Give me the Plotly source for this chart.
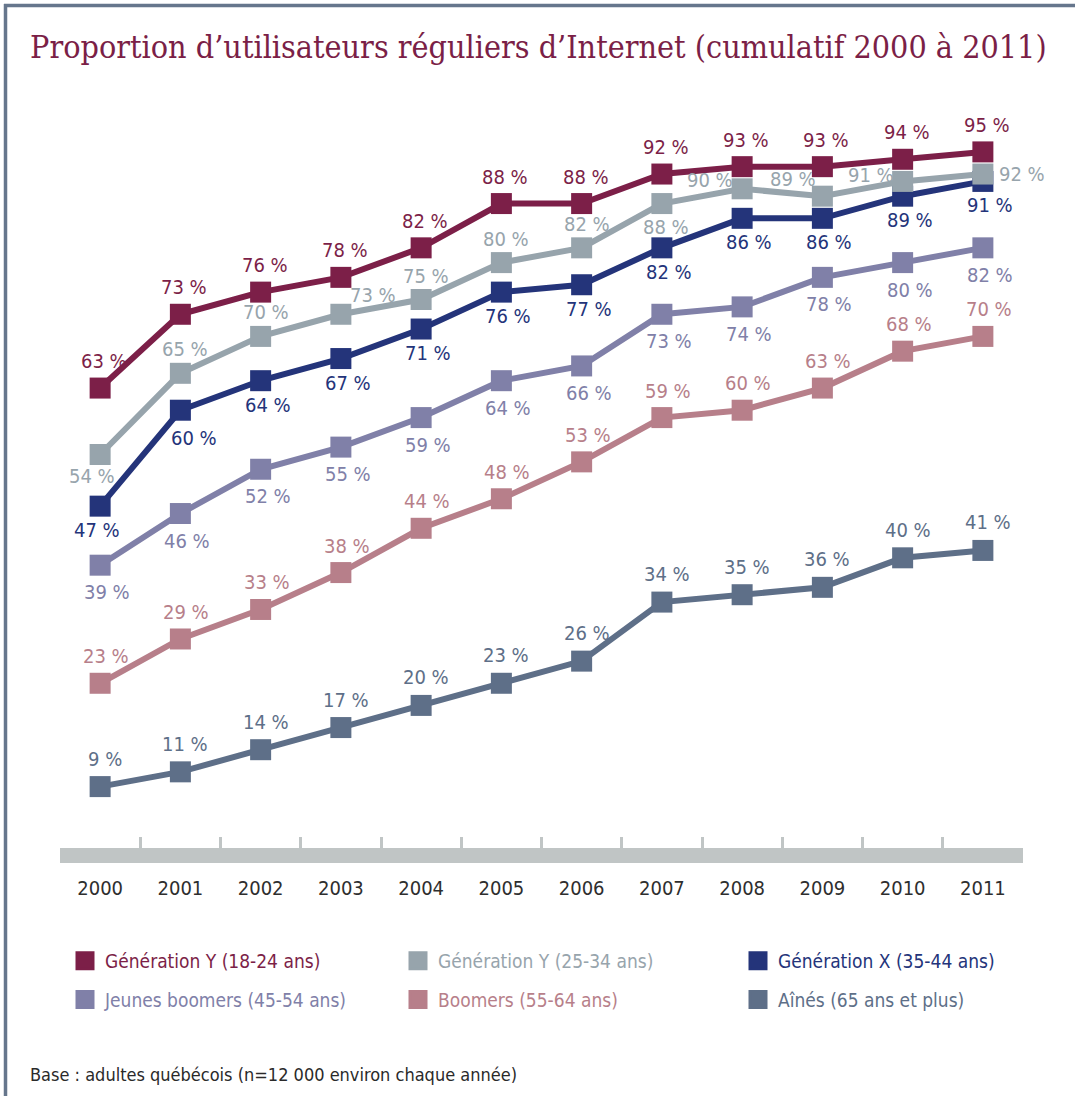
import plotly.graph_objects as go

# ---------------- data ----------------
years = [2000, 2001, 2002, 2003, 2004, 2005, 2006, 2007, 2008, 2009, 2010, 2011]

gen_y_18_24 = [63, 73, 76, 78, 82, 88, 88, 92, 93, 93, 94, 95]
gen_y_25_34 = [54, 65, 70, 73, 75, 80, 82, 88, 90, 89, 91, 92]
gen_x_35_44 = [47, 60, 64, 67, 71, 76, 77, 82, 86, 86, 89, 91]
jeunes_boomers = [39, 46, 52, 55, 59, 64, 66, 73, 74, 78, 80, 82]
boomers = [23, 29, 33, 38, 44, 48, 53, 59, 60, 63, 68, 70]
aines = [9, 11, 14, 17, 20, 23, 26, 34, 35, 36, 40, 41]

names = [
    "Génération Y (18-24 ans)",
    "Génération Y (25-34 ans)",
    "Génération X (35-44 ans)",
    "Jeunes boomers (45-54 ans)",
    "Boomers (55-64 ans)",
    "Aînés (65 ans et plus)",
]
values = [gen_y_18_24, gen_y_25_34, gen_x_35_44, jeunes_boomers, boomers, aines]

title_text = "Proportion d’utilisateurs réguliers d’Internet (cumulatif 2000 à 2011)"
footer_text = "Base : adultes québécois (n=12 000 environ chaque année)"

# ---------------- style ----------------
colors = ["#7c1f48", "#97a4ac", "#24347a", "#8080a8", "#b77f8a", "#5e6f88"]
COND = "Liberation Sans Narrow, DejaVu Sans Condensed, Arial Narrow, sans-serif"
AXIS_GREY = "#c0c5c5"
BORDER = "#66768c"

# label offsets (px): default per series, plus per-point exceptions
label_default = [(4, 27), (5, 24), (7, -24), (7, -27), (6, 27), (5, 28)]
label_except = {
    (1, 0): (-8, -22),
    (1, 3): (32, 19),
    (1, 7): (4, -23),
    (1, 8): (-32, 9),
    (1, 9): (-29, 17),
    (1, 10): (-32, 6),
    (1, 11): (39, 0),
    (2, 0): (-3, -24),
    (2, 1): (14, -28),
}

W, H = 1075, 1096
ML, MR, MT, MB = 60, 52, 115, 248
PW = W - ML - MR
PH = H - MT - MB


def px(xp):
    return (xp - ML) / PW


def py(yp):
    return (H - MB - yp) / PH


fig = go.Figure()

# lines, drawn bottom series first so upper ones overlap
for i in reversed(range(len(names))):
    fig.add_trace(go.Scatter(
        x=years, y=values[i], mode="lines+markers",
        line=dict(color=colors[i], width=6),
        marker=dict(symbol="square", size=21, color=colors[i]),
        showlegend=False, hoverinfo="skip",
    ))

# data labels
annotations = []
for i, vals in enumerate(values):
    for j, v in enumerate(vals):
        dx, dy = label_except.get((i, j), label_default[i])
        annotations.append(dict(
            x=years[j], y=v, xref="x", yref="y", text=f"{v} %",
            showarrow=False, xshift=dx, yshift=dy,
            font=dict(family=COND, size=20, color=colors[i]),
        ))

# legend-only entries (three columns)
legend_ids = ["legend", "legend2", "legend3", "legend", "legend2", "legend3"]
for i, nm in enumerate(names):
    fig.add_trace(go.Scatter(
        x=[None], y=[None], mode="markers",
        marker=dict(symbol="square", size=16, color=colors[i],
                    line=dict(color=colors[i], width=3)),
        name=f'<span style="color:{colors[i]}">{nm}</span>',
        legend=legend_ids[i], legendgroup=nm, showlegend=True,
    ))

leg_common = dict(
    yanchor="top", xanchor="left", y=py(942),
    font=dict(family=COND, size=19), tracegroupgap=11,
    bgcolor="rgba(0,0,0,0)", itemclick=False, itemdoubleclick=False,
)

annotations.append(dict(
    x=px(28), y=py(1074), xref="paper", yref="paper", xanchor="left",
    yanchor="middle", text=footer_text, showarrow=False,
    font=dict(family=COND, size=18, color="#2a2a2a"),
))

shapes = [
    dict(type="line", xref="paper", yref="paper", x0=px(4), x1=px(1075),
         y0=py(5.5), y1=py(5.5), line=dict(color=BORDER, width=3.5)),
    dict(type="line", xref="paper", yref="paper", x0=px(5.5), x1=px(5.5),
         y0=py(4), y1=py(1096), line=dict(color=BORDER, width=3.5)),
]

minor_ticks = [y + 0.5 for y in years[:-1]]

fig.update_layout(
    width=W, height=H,
    margin=dict(l=ML, r=MR, t=MT, b=MB),
    paper_bgcolor="white", plot_bgcolor="white",
    title=dict(text=title_text, x=30 / W, xanchor="left", xref="container",
               y=1 - 47 / H, yanchor="middle", yref="container",
               font=dict(family="DejaVu Serif Condensed, DejaVu Serif, serif",
                         size=32, color="#7b1f47")),
    xaxis=dict(range=[1999.5, 2011.5], tickmode="linear", tick0=2000, dtick=1,
               showline=True, linewidth=15, linecolor=AXIS_GREY,
               showgrid=False, zeroline=False, ticks="",
               ticklabelstandoff=8,
               tickfont=dict(family=COND, size=20, color="#2e2e2e"),
               minor=dict(ticks="inside", tickmode="array", tickvals=minor_ticks,
                          ticklen=11, tickwidth=3, tickcolor=AXIS_GREY,
                          showgrid=False),
               fixedrange=True),
    yaxis=dict(range=[0.68, 100], visible=False, fixedrange=True),
    legend=dict(x=px(65), **leg_common),
    legend2=dict(x=px(398), **leg_common),
    legend3=dict(x=px(738), **leg_common),
    annotations=annotations,
    shapes=shapes,
    showlegend=True,
)

fig.write_html("out.html", config={"displayModeBar": False},
               post_script="document.body.style.margin='0px';")
